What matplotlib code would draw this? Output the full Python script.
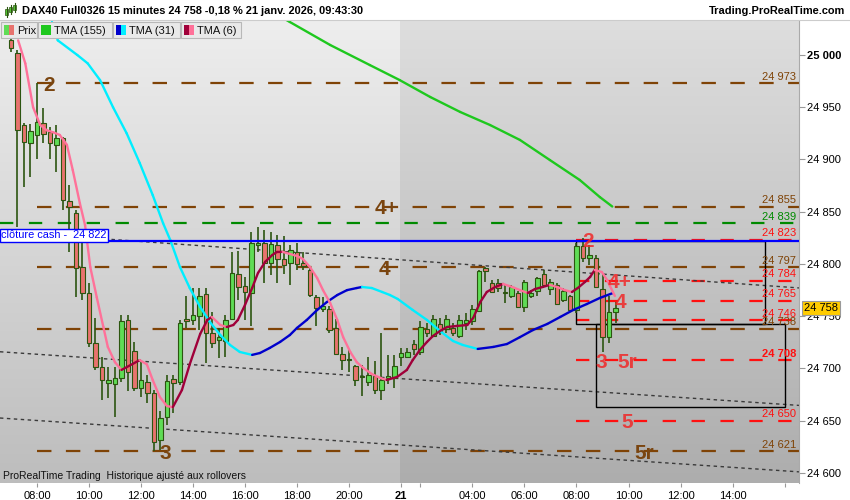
import matplotlib
matplotlib.use('Agg')
import matplotlib.pyplot as plt
import matplotlib.colors as mcolors
import numpy as np
from matplotlib.patches import Rectangle
from matplotlib.collections import LineCollection

plt.rcParams['font.family'] = ['Liberation Sans', 'DejaVu Sans']

# ---------------- data ----------------
bar_index = list(range(-4, 90))
opens = [25014, 25002, 24933, 24916, 24923, 24935, 24926, 24914, 24921, 24860,
         24849, 24797, 24772, 24724, 24701, 24686, 24685, 24691, 24746, 24717,
         24681, 24687, 24677, 24632, 24654, 24690, 24687, 24747, 24746, 24750,
         24771, 24734, 24727, 24726, 24747, 24790, 24779, 24772, 24818, 24820,
         24801, 24818, 24805, 24801, 24811, 24801, 24794, 24768, 24757, 24757,
         24739, 24714, 24708, 24702, 24692, 24687, 24693, 24679, 24691, 24691,
         24711, 24711, 24723, 24716, 24738, 24731, 24743, 24738, 24739, 24731,
         24744, 24745, 24755, 24796, 24782, 24782, 24773, 24769, 24772, 24759,
         24769, 24774, 24790, 24776, 24780, 24766, 24769, 24756, 24817, 24806,
         24806, 24776, 24730, 24754]
highs = [25018, 25005, 24935, 24934, 24973, 24949, 24931, 24933, 24922, 24876,
         24852, 24826, 24782, 24748, 24711, 24701, 24701, 24751, 24751, 24725,
         24708, 24694, 24679, 24659, 24694, 24694, 24746, 24769, 24777, 24777,
         24777, 24754, 24739, 24751, 24811, 24812, 24788, 24831, 24835, 24833,
         24831, 24828, 24827, 24818, 24820, 24811, 24797, 24770, 24768, 24760,
         24747, 24721, 24719, 24703, 24703, 24711, 24707, 24734, 24713, 24713,
         24720, 24720, 24727, 24745, 24744, 24751, 24748, 24751, 24744, 24751,
         24753, 24761, 24794, 24797, 24785, 24786, 24780, 24780, 24774, 24785,
         24775, 24788, 24794, 24786, 24782, 24777, 24770, 24820, 24825, 24818,
         24809, 24790, 24769, 24764]
lows = [25003, 24835, 24874, 24883, 24900, 24916, 24900, 24888, 24852, 24811,
        24768, 24766, 24721, 24699, 24670, 24672, 24654, 24687, 24678, 24678,
        24673, 24667, 24621, 24622, 24646, 24657, 24684, 24739, 24742, 24737,
        24705, 24720, 24710, 24711, 24746, 24766, 24746, 24741, 24811, 24782,
        24789, 24782, 24790, 24780, 24794, 24794, 24768, 24741, 24754, 24734,
        24713, 24699, 24697, 24683, 24674, 24683, 24676, 24670, 24685, 24681,
        24702, 24710, 24713, 24713, 24730, 24730, 24732, 24734, 24731, 24729,
        24737, 24742, 24754, 24783, 24772, 24773, 24763, 24767, 24758, 24754,
        24767, 24769, 24778, 24770, 24761, 24764, 24754, 24753, 24802, 24799,
        24777, 24716, 24724, 24744]
closes = [25007, 24928, 24917, 24927, 24936, 24924, 24916, 24921, 24861, 24855,
          24796, 24772, 24724, 24701, 24689, 24689, 24691, 24745, 24697, 24681,
          24689, 24677, 24630, 24653, 24688, 24686, 24744, 24745, 24751, 24769,
          24734, 24724, 24730, 24746, 24791, 24778, 24773, 24820, 24820, 24801,
          24819, 24805, 24799, 24813, 24800, 24798, 24770, 24758, 24760, 24737,
          24714, 24708, 24709, 24689, 24693, 24694, 24679, 24689, 24693, 24702,
          24715, 24716, 24719, 24740, 24734, 24747, 24735, 24747, 24734, 24746,
          24746, 24757, 24793, 24793, 24773, 24777, 24772, 24778, 24759, 24783,
          24772, 24787, 24780, 24783, 24762, 24774, 24756, 24817, 24806, 24809,
          24778, 24730, 24754, 24758]

tma6_idx = [-2.9, -1.8, -0.6, 0.5, 1.5, 2.5, 3.5, 4.6, 5.5, 6.6, 7.4, 8.2, 9.2, 10.2, 10.9,
            12, 13, 15.8, 16.9, 17.8, 18.9, 20, 20.9, 22.3, 23.5, 25.1, 26.2, 26.9, 28.2,
            29.2, 30.2, 30.9, 32, 33.1, 34, 35.1, 36.2, 36.9, 37.8, 38.9, 40, 40.9, 42,
            43.1, 44, 45.1, 46.2, 47.1, 48.2, 49.2, 50.2, 51.5, 52.8, 53.8, 55.4, 56.9,
            57.8, 58.9, 60, 60.9, 62, 63.1, 64.6, 66.2, 67.1, 68.2, 69.2, 70.5, 71.7,
            73.1, 74.3, 75.5, 76.6, 77.8, 78.9, 80, 81.2, 82.3, 83.2, 84.3, 85.1, 85.8,
            86.9, 87.7, 88.6, 88.9]
tma6_val = [25014, 24992, 24950, 24933, 24928, 24926, 24923.5, 24914, 24890, 24858,
            24837, 24797, 24768, 24740, 24720.6, 24706, 24698.6, 24708, 24704, 24689,
            24672.7, 24664, 24663, 24679.4, 24704, 24733, 24746.4, 24749.3, 24741.6,
            24739.7, 24741.6, 24746.4, 24760.8, 24777, 24791.4, 24802, 24808.6, 24811.5,
            24811.6, 24809.6, 24807.7, 24804.8, 24797, 24786.6, 24775, 24762.7, 24746.4,
            24730, 24715.8, 24706, 24700.5, 24694.7, 24691, 24689, 24691.9, 24698.6,
            24708, 24717.7, 24725.4, 24731, 24735.9, 24739.7, 24740.7, 24741.6, 24748.3,
            24763.6, 24773.2, 24778, 24780.9, 24778, 24775, 24772.2, 24776, 24778, 24780,
            24778, 24775, 24773.2, 24777, 24782.8, 24787.6, 24794.3, 24792.3, 24784.7,
            24773.2, 24769.4]

tma31_idx = [2.3, 3.2, 6.2, 7.8, 9.7, 11.7, 13.8, 15.8, 17.8, 19.4, 20.5, 22, 23.5, 25.1,
             26.6, 28.2, 29.7, 31.2, 33.1, 34.3, 35.8, 37.4, 38.9, 40, 41.5, 43.1, 44.6,
             46.2, 47.7, 49.2, 50, 51.5, 53.1, 54.3, 55.5, 57.8, 60, 62, 64, 65.5, 67.8,
             70.2, 72.3, 74.3, 76.3, 78.5, 80.5, 82.5, 84.6, 86.6, 88.6]
tma31_val = [25031.6, 25014, 25000, 24992, 24976, 24950, 24925, 24896.7, 24866, 24839,
             24823, 24797, 24777, 24758.9, 24744.5, 24732, 24722.5, 24715.8, 24713,
             24714.8, 24719.6, 24725.4, 24732, 24738.8, 24746.4, 24756, 24763.6, 24770.3,
             24775, 24777, 24778, 24777, 24773.2, 24770.3, 24766.5, 24756, 24746.4,
             24735.9, 24726.3, 24722.5, 24718.7, 24720.6, 24723.4, 24730, 24736.8,
             24742.6, 24749.3, 24756, 24761.7, 24767.5, 24772.2]

tma155_idx = [37.4, 38.9, 45.1, 51.2, 55.8, 60.5, 65.1, 69.7, 74.3, 78.9, 83.5, 86.6, 88.5]
tma155_val = [25037, 25031.6, 25009.6, 24990.4, 24976, 24959.8, 24945.5, 24933, 24918.7,
              24899.5, 24880.4, 24864, 24855]

brown_levels = [24973, 24855, 24797, 24738, 24621]
green_levels = [24839]
red_levels = [24823, 24784, 24765, 24746, 24708, 24650]
cash_close = 24822

# trend channel (start idx, start price, end idx, end price)
trend_x0 = [4, -5.7, -5.7]
trend_y0 = [24826.8, 24716, 24652.6]
trend_x1 = [117.4, 117.4, 117.4]
trend_y1 = [24777, 24664.6, 24601]

# rectangles (x0, x1, y_low, y_high)
rect_x0 = [83, 86]
rect_x1 = [112, 115]
rect_lo = [24742.6, 24663]
rect_hi = [24822, 24742.6]

# zone labels
brown_lab_txt = ['2', '4+', '4', '3', '5r']
brown_lab_x = [1.85, 53.8, 53.5, 19.7, 93.5]
brown_lab_y = [24973, 24855, 24797, 24621, 24621]
red_lab_txt = ['2', '4+', '4', '3', '5r', '5']
red_lab_x = [84.8, 89.7, 89.7, 86.8, 90.8, 90.8]
red_lab_y = [24823, 24784, 24765, 24708, 24708, 24650]

yticks = [24600, 24650, 24700, 24750, 24800, 24850, 24900, 24950, 25000]
xtick_pos = [0, 8, 16, 24, 32, 40, 48, 56, 59, 67, 75, 83, 91, 99, 107, 115]
xtick_lab = ['08:00', '10:00', '12:00', '14:00', '16:00', '18:00', '20:00', '21', '',
             '04:00', '06:00', '08:00', '10:00', '12:00', '14:00', '']
last_price = 24758

# ---------------- style ----------------
UP = '#5fdc55'
DOWN = '#e8736e'
EDGE = '#2c5510'
BROWN = '#7f4306'
GREEN = '#008a00'
RED = '#ff1010'
W, H = 850, 500
XMIN, XMAX = -5.69, 117.23
YMIN, YMAX = 24590.4, 25033.5
SPLIT = 55.85


def fmt(v):
    return '{:,}'.format(int(v)).replace(',', ' ')


fig = plt.figure(figsize=(8.5, 5), dpi=100)
fig.patch.set_facecolor('white')
ax = fig.add_axes([0, 17 / H, 799 / W, 463 / H])

# background gradients
g = np.linspace(0, 1, 256)[:, None, None]
def grad(top, bot):
    t = np.array(mcolors.to_rgb(top))[None, None, :]
    b = np.array(mcolors.to_rgb(bot))[None, None, :]
    return t * (1 - g) + b * g
ax.imshow(grad('#eeeeee', '#bdbdbd'), extent=(XMIN, SPLIT, YMIN, YMAX), aspect='auto',
          origin='upper', zorder=0, interpolation='bilinear')
ax.imshow(grad('#dedede', '#adadad'), extent=(SPLIT, XMAX, YMIN, YMAX), aspect='auto',
          origin='upper', zorder=0, interpolation='bilinear')

# level lines
for lv in brown_levels:
    ax.hlines(lv, 0, XMAX, colors=BROWN, linestyles=(0, (6.5, 6.5)), lw=1.6, zorder=1)
for lv in green_levels:
    ax.hlines(lv, XMIN, XMAX, colors=GREEN, linestyles=(0, (6, 7)), lw=1.6, zorder=1)
for lv in red_levels:
    ax.hlines(lv, 83, XMAX, colors=RED, linestyles=(0, (6, 7)), lw=1.6, zorder=1)

# trend channel
for x0, y0, x1, y1 in zip(trend_x0, trend_y0, trend_x1, trend_y1):
    ax.plot([x0, x1], [y0, y1], color='#3a3a3a', lw=1.0, ls=(0, (2.5, 2.5)), zorder=1.5)

# rectangles
for x0, x1, lo, hi in zip(rect_x0, rect_x1, rect_lo, rect_hi):
    ax.add_patch(Rectangle((x0, lo), x1 - x0, hi - lo, fill=False, ec='black', lw=1.0, zorder=2))

# candles
for i, o, h, l, c in zip(bar_index, opens, highs, lows, closes):
    ax.vlines(i, l, h, color=EDGE, lw=1.2, zorder=3)
    lo = min(o, c)
    hh = max(abs(c - o), 1.0)
    ax.add_patch(Rectangle((i - 0.37, lo), 0.74, hh, facecolor=UP if c >= o else DOWN,
                           edgecolor=EDGE, lw=0.8, zorder=3.1))


def slope_line(xs, ys, c_up, c_dn, lw=1.7):
    xs = np.asarray(xs, float)
    ys = np.asarray(ys, float)
    segs = [[(xs[k], ys[k]), (xs[k + 1], ys[k + 1])] for k in range(len(xs) - 1)]
    cols = [c_up if ys[k + 1] >= ys[k] else c_dn for k in range(len(xs) - 1)]
    lc = LineCollection(segs, colors=cols, linewidths=lw, zorder=4, capstyle='round')
    ax.add_collection(lc)


slope_line(tma155_idx, tma155_val, '#1ec81e', '#1ec81e')
slope_line(tma31_idx, tma31_val, '#0000cc', '#00eeff')
slope_line(tma6_idx, tma6_val, '#a0003a', '#ff7199')

# cash close line
ax.axhline(cash_close, color='#0000ff', lw=1.6, zorder=4.5)
ax.text(XMIN + 0.2, cash_close + 0.8, 'clôture cash -  24 822', fontsize=7.9, color='#0000ff',
        va='bottom', ha='left', zorder=6,
        bbox=dict(boxstyle='square,pad=0.15', fc='white', ec='#0000ff', lw=1.0))

# right side level labels
lab_x = 116.8
for lv in brown_levels:
    ax.annotate(fmt(lv), (lab_x, lv), xytext=(0, 2.5), textcoords='offset points',
                ha='right', va='baseline', fontsize=8, color=BROWN, zorder=6)
for lv in green_levels:
    ax.annotate(fmt(lv), (lab_x, lv), xytext=(0, 2.5), textcoords='offset points',
                ha='right', va='baseline', fontsize=8, color=GREEN, zorder=6)
for lv in red_levels:
    ax.annotate(fmt(lv), (lab_x, lv), xytext=(0, 2.5), textcoords='offset points',
                ha='right', va='baseline', fontsize=8, color=RED, zorder=6,
                fontweight='bold' if lv == 24708 else 'normal')

# zone labels
for t, x, y in zip(brown_lab_txt, brown_lab_x, brown_lab_y):
    ax.text(x, y, t, ha='center', va='center_baseline', fontsize=15, fontweight='bold',
            color='#7a4510', zorder=6, family=['Liberation Sans Narrow', 'Liberation Sans'])
for t, x, y in zip(red_lab_txt, red_lab_x, red_lab_y):
    ax.text(x, y, t, ha='center', va='center_baseline', fontsize=15, fontweight='bold',
            color='#f02828', alpha=0.85, zorder=6,
            family=['Liberation Sans Narrow', 'Liberation Sans'])

ax.text(3 / 799, 7 / 463, 'ProRealTime Trading  Historique ajusté aux rollovers',
        transform=ax.transAxes, fontsize=7.5, va='center', ha='left', color='#111111', zorder=6)

ax.set_xlim(XMIN, XMAX)
ax.set_ylim(YMIN, YMAX)
for s in ['left', 'top', 'bottom']:
    ax.spines[s].set_visible(False)
ax.spines['right'].set_color('#aaaaaa')

ax.yaxis.tick_right()
ax.set_yticks(yticks, [fmt(v) for v in yticks])
ax.tick_params(axis='y', length=4, color='#999999', labelsize=8, pad=2)
for tl in ax.get_yticklabels():
    if tl.get_text() == '25 000':
        tl.set_fontweight('bold')
ax.set_xticks(xtick_pos, xtick_lab)
ax.tick_params(axis='x', length=3, color='#999999', labelsize=8, pad=3)
for tl in ax.get_xticklabels():
    if tl.get_text() == '21':
        tl.set_fontweight('bold')

ax.annotate(fmt(last_price), xy=(1, last_price), xycoords=('axes fraction', 'data'),
            xytext=(3.5, 0), textcoords='offset points', va='center', ha='left', fontsize=8,
            bbox=dict(boxstyle='square,pad=0.18', fc='#ffcc00', ec='#9a9a9a', lw=0.8),
            annotation_clip=False, zorder=10)

# ---------------- overlay: header + legend ----------------
ov = fig.add_axes([0, 0, 1, 1], zorder=20)
ov.set_xlim(0, W)
ov.set_ylim(H, 0)
ov.axis('off')
ov.add_patch(Rectangle((0, 0), W, 20, fc='white', ec='none'))
ov.plot([0, W], [20, 20], color='#cccccc', lw=0.8)
# header icon
for cx, y0, y1, col in [(7, 9, 15, '#55cc33'), (11, 7, 12, '#55cc33'), (15, 5, 10, '#55cc33')]:
    ov.plot([cx, cx], [y0 - 2, y1 + 2], color='#2c5510', lw=0.8)
    ov.add_patch(Rectangle((cx - 1.5, y0), 3, y1 - y0, fc=col, ec='#2c5510', lw=0.5))
ov.text(22, 11, 'DAX40 Full0326 15 minutes 24 758 -0,18 % 21 janv. 2026, 09:43:30',
        fontsize=7.9, fontweight='bold', va='center', ha='left')
ov.text(845, 11, 'Trading.ProRealTime.com', fontsize=7.9, fontweight='bold', va='center',
        ha='right')

legend_boxes = [(1, 37, 'Prix', (UP, DOWN)), (38, 112, 'TMA (155)', ('#1ec81e', '#1ec81e')),
                (113, 180, 'TMA (31)', ('#0000cc', '#00eeff')),
                (181, 241, 'TMA (6)', ('#a0003a', '#ff7199'))]
for x0, x1, txt, (c1, c2) in legend_boxes:
    ov.add_patch(Rectangle((x0, 22), x1 - x0, 16, fc='#e9e9e9', ec='#b8b8b8', lw=0.8))
    ov.add_patch(Rectangle((x0 + 3, 25), 5, 10, fc=c1, ec='none'))
    ov.add_patch(Rectangle((x0 + 8, 25), 5, 10, fc=c2, ec='none'))
    ov.text(x0 + 16, 30.5, txt, fontsize=8, va='center', ha='left', color='#111111')

fig.savefig('out.png', dpi=100, facecolor='white')
